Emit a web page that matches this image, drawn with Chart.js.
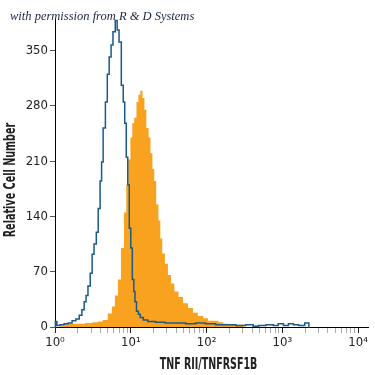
<!DOCTYPE html>
<html><head><meta charset="utf-8">
<script src="https://cdn.jsdelivr.net/npm/chart.js@4/dist/chart.umd.min.js"></script>
<style>html,body{margin:0;padding:0;background:#fff}#wrap{width:375px;height:375px}</style>
</head><body><div id="wrap"><canvas id="c" width="375" height="375"></canvas></div>
<script>
// Isotype control (blue outline): log10 fluorescence and counts
const isotypeLog = [0.00,0.01,0.04,0.09,0.15,0.20,0.25,0.30,0.34,0.37,0.40,0.42,0.45,0.48,0.50,0.53,0.56,0.58,0.61,0.62,0.65,0.68,0.70,0.73,0.75,0.78,0.81,0.83,0.86,0.89,0.91,0.93,0.95,0.97,0.99,1.01,1.03,1.05,1.06,1.09,1.11,1.14,1.19,1.26,1.39,1.52,1.66,1.79,1.92,2.05,2.19,2.32,2.45,2.58,2.65,2.72,2.85,2.91,2.98,3.05,3.11,3.18,3.25,3.34,3.36];
const isotypeCount = [0,7,2,3,4,5,8,10,15,22,32,40,52,68,92,105,120,150,185,209,252,285,320,342,357,374,388,376,361,306,285,258,215,180,125,100,60,45,32,20,16,12,9,7,6,5,5,4,5,4,3,3,2,3,1,2,3,2,4,2,4,3,2,5,0];
// TNF RII stained cells (orange fill)
const stainedLog = [0.07,0.20,0.33,0.46,0.53,0.60,0.66,0.73,0.77,0.81,0.85,0.89,0.93,0.95,0.98,1.01,1.03,1.06,1.09,1.11,1.14,1.17,1.19,1.22,1.25,1.27,1.30,1.32,1.35,1.38,1.40,1.43,1.47,1.51,1.55,1.60,1.66,1.72,1.79,1.85,1.92,1.99,2.05,2.12,2.19,2.25,2.32,2.45,2.52];
const stainedCount = [2,4,4,5,6,7,9,17,26,40,60,100,145,180,212,240,258,265,285,294,299,290,275,252,240,220,200,185,155,135,112,93,80,66,55,45,38,30,24,18,14,11,8,8,6,4,3,3,0];
const yTickValues = [0,70,140,210,280,350];
const xDecades = [0,1,2,3,4];
const xDecadeLabels = ['10\u2070','10\u00B9','10\u00B2','10\u00B3','10\u2074'];
const xAxisTitle = 'TNF RII/TNFRSF1B';
const yAxisTitle = 'Relative Cell Number';
const creditText = 'with permission from R & D Systems';

const toPts = (logs, counts) => logs.map((d, i) => ({x: Math.pow(10, d), y: counts[i]}));
const narrow = "'Liberation Sans Narrow', 'DejaVu Sans Condensed', 'Arial Narrow', sans-serif";

const xTickValues = [];
xDecades.forEach(d => {
  if (d < 4) { for (let m = 1; m <= 9; m++) xTickValues.push(m * Math.pow(10, d)); }
  else xTickValues.push(Math.pow(10, d));
});
const isMajor = v => { const l = Math.log10(v); return Math.abs(l - Math.round(l)) < 1e-9; };

const textPlugin = {
  id: 'texts',
  afterDraw(chart) {
    const ctx = chart.ctx, a = chart.chartArea;
    ctx.save();
    ctx.font = "italic 12.5px 'Liberation Serif', 'DejaVu Serif', serif";
    ctx.fillStyle = '#1c2444';
    ctx.textBaseline = 'alphabetic';
    ctx.textAlign = 'left';
    ctx.fillText(creditText, 10, 20);
    ctx.restore();
    // condensed bold axis titles
    const f = "bold 16px 'DejaVu Sans Condensed', 'Liberation Sans', sans-serif";
    ctx.save();
    ctx.font = f; ctx.fillStyle = '#222'; ctx.textAlign = 'center'; ctx.textBaseline = 'middle';
    ctx.translate((a.left + a.right) / 2 - 3, 365);
    ctx.scale(0.66, 1);
    ctx.fillText(xAxisTitle, 0, 0);
    ctx.restore();
    ctx.save();
    ctx.font = f; ctx.fillStyle = '#222'; ctx.textAlign = 'center'; ctx.textBaseline = 'middle';
    ctx.translate(11, (a.top + a.bottom) / 2 + 7);
    ctx.rotate(-Math.PI / 2);
    ctx.scale(0.67, 1);
    ctx.fillText(yAxisTitle, 0, 0);
    ctx.restore();
  }
};

new Chart(document.getElementById('c'), {
  type: 'line',
  data: {
    datasets: [
      { label: 'Isotype', data: toPts(isotypeLog, isotypeCount), stepped: 'middle',
        borderColor: '#1b5a86', borderWidth: 1.5, pointRadius: 0, fill: false, clip: false, order: 0 },
      { label: 'TNF RII', data: toPts(stainedLog, stainedCount), stepped: 'middle',
        borderColor: 'rgba(0,0,0,0)', borderWidth: 0, backgroundColor: '#f8a21f', pointRadius: 0, fill: 'origin', order: 1 }
    ]
  },
  options: {
    responsive: false, animation: false, devicePixelRatio: 1,
    layout: { padding: { top: 19, right: 7, left: 0, bottom: 0 } },
    plugins: { legend: { display: false }, tooltip: { enabled: false } },
    scales: {
      x: {
        type: 'logarithmic', min: 1, max: Math.pow(10, 4.13),
        afterBuildTicks: s => { s.ticks = xTickValues.map(v => ({value: v})); },
        afterFit: s => { s.height = 48; },
        border: { display: true, color: '#000', width: 1 },
        grid: { drawOnChartArea: false, drawTicks: true, tickLength: 6,
          tickColor: c => (c.tick && isMajor(c.tick.value)) ? '#222' : '#aaa' },
        ticks: { autoSkip: false, maxRotation: 0, padding: 2, color: '#222',
          font: { family: narrow, size: 13 },
          callback: v => { if (!isMajor(v)) return ''; return xDecadeLabels[xDecades.indexOf(Math.round(Math.log10(v)))]; } },
        title: { display: false, text: xAxisTitle }
      },
      y: {
        min: 0, max: 390,
        afterBuildTicks: s => { s.ticks = yTickValues.map(v => ({value: v})); },
        afterFit: s => { s.width = 55; },
        border: { display: true, color: '#000', width: 1 },
        grid: { drawOnChartArea: false, drawTicks: true, tickLength: 5, tickColor: '#555' },
        ticks: { padding: 2, color: '#222', font: { family: narrow, size: 13 } },
        title: { display: false, text: yAxisTitle }
      }
    }
  },
  plugins: [textPlugin]
});
</script></body></html>
